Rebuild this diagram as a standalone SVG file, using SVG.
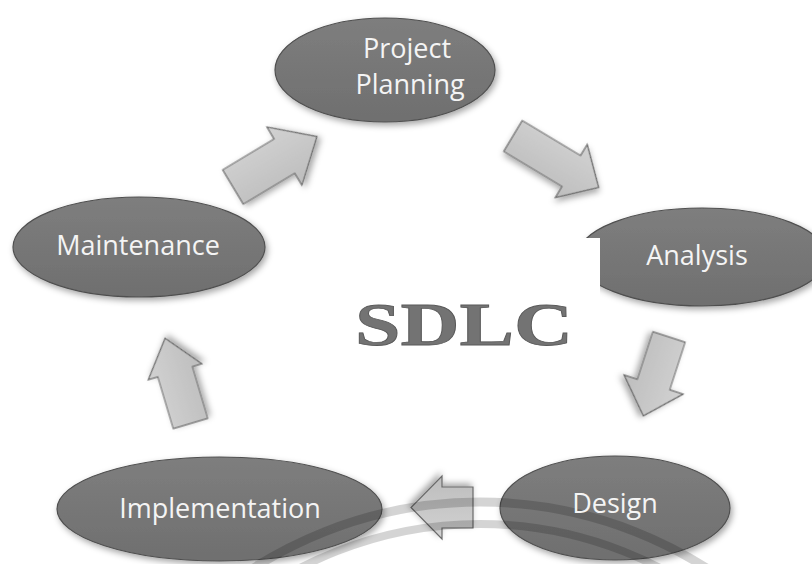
<svg xmlns="http://www.w3.org/2000/svg" width="812" height="564" viewBox="0 0 812 564">
  <defs>
    <filter id="sh" x="-20%" y="-30%" width="140%" height="160%">
      <feGaussianBlur in="SourceAlpha" stdDeviation="3"/>
      <feOffset dx="2" dy="3" result="b"/>
      <feFlood flood-color="#000" flood-opacity="0.35"/>
      <feComposite in2="b" operator="in"/>
      <feMerge><feMergeNode/><feMergeNode in="SourceGraphic"/></feMerge>
    </filter>
    <linearGradient id="eg" x1="0" y1="0" x2="0" y2="1">
      <stop offset="0" stop-color="#7e7e7e"/>
      <stop offset="1" stop-color="#6f6f6f"/>
    </linearGradient>
    <linearGradient id="ag" x1="0" y1="0" x2="0" y2="1">
      <stop offset="0" stop-color="#d2d2d2"/>
      <stop offset="1" stop-color="#bdbdbd"/>
    </linearGradient>
    <clipPath id="anClip">
      <path d="M0 0H812V564H600V238H0Z"/>
    </clipPath>
    <style>
      .node { fill: url(#eg); stroke: #505050; stroke-width: 1.2; filter: url(#sh); }
      .lbl { font-family: "Open Sans", "Liberation Sans", sans-serif; font-size: 27px; fill: #f4f4f4; text-anchor: middle; }
      .arr { fill: url(#ag); stroke: #6a6a6a; stroke-width: 1.2; filter: url(#sh); }
      .arc { fill: none; stroke: #000; stroke-opacity: 0.17; }
    </style>
  </defs>
  <rect width="812" height="564" fill="#ffffff"/>

  <g id="project-planning">
    <ellipse class="node" cx="385" cy="70" rx="110" ry="52"/>
  </g>
  <g id="maintenance">
    <ellipse class="node" cx="139" cy="247" rx="126" ry="50"/>
  </g>
  <g id="analysis">
    <g clip-path="url(#anClip)">
      <ellipse class="node" cx="702" cy="257" rx="125" ry="49"/>
    </g>
  </g>
  <g id="implementation">
    <ellipse class="node" cx="219.5" cy="509" rx="162.5" ry="52"/>
  </g>
  <g id="design">
    <ellipse class="node" cx="615" cy="508" rx="115" ry="52"/>
  </g>

  <g id="connectors">
    <path class="arr" transform="translate(233 187) rotate(-31)" d="M0 -20L60 -20L60 -34L98 0L60 34L60 20L0 20Z"/>
    <path class="arr" transform="translate(513 136) rotate(31)" d="M0 -18L68 -18L68 -31L100 0L68 31L68 18L0 18Z"/>
    <path class="arr" transform="translate(669 337) rotate(108)" d="M0 -17L50 -17L50 -31L83 0L50 31L50 17L0 17Z"/>
    <path class="arr" transform="translate(473 507.5) rotate(180)" d="M0 -20.5L31 -20.5L31 -31.5L62 0L31 31.5L31 20.5L0 20.5Z"/>
    <path class="arr" transform="translate(190.5 423.5) rotate(-106.6)" d="M0 -18L54 -18L54 -28L89 0L54 28L54 18L0 18Z"/>
  </g>

  <g id="arcs">
    <circle class="arc" cx="480" cy="923" r="421" stroke-width="9"/>
    <circle class="arc" cx="480" cy="914" r="390" stroke-width="8"/>
  </g>

  <g id="labels">
    <text class="lbl" x="407" y="58" font-size="26">Project</text>
    <text class="lbl" x="410" y="94" font-size="26">Planning</text>
    <text class="lbl" x="138" y="255">Maintenance</text>
    <text class="lbl" x="697" y="265">Analysis</text>
    <text class="lbl" x="615" y="513">Design</text>
    <text class="lbl" x="220" y="518">Implementation</text>
  </g>

  <g id="title">
    <text x="355" y="345" font-family="'Liberation Serif', 'Times New Roman', serif" font-weight="bold" font-size="62" fill="#737373" stroke="#5a5a5a" stroke-width="0.8" textLength="218" lengthAdjust="spacingAndGlyphs">SDLC</text>
  </g>
</svg>
